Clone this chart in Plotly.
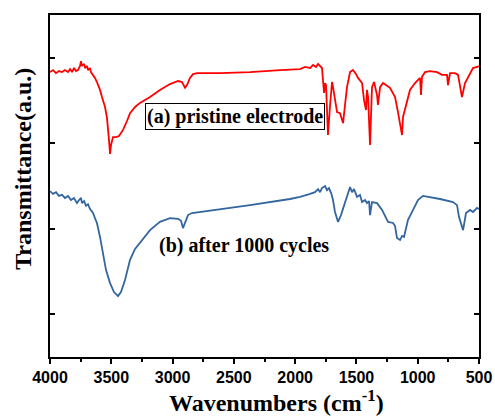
import plotly.graph_objects as go

# FTIR spectra: wavenumber (cm^-1) and transmittance (arbitrary units, offset traces)
wn_pristine = [4000, 3975, 3951, 3927, 3902, 3878, 3853, 3837, 3820, 3804, 3788, 3772,
               3755, 3747, 3739, 3722, 3714, 3698, 3690, 3674, 3666, 3649, 3633, 3617,
               3592, 3576, 3551, 3535, 3527, 3519, 3510, 3502, 3486, 3462, 3437, 3404,
               3372, 3347, 3306, 3266, 3184, 3103, 3021, 2955, 2923, 2898, 2882, 2858,
               2833, 2800, 2613, 2368, 2123, 1960, 1919, 1878, 1854, 1830, 1813, 1797,
               1781, 1773, 1764, 1756, 1748, 1740, 1732, 1715, 1699, 1691, 1675, 1658,
               1634, 1609, 1593, 1577, 1552, 1528, 1503, 1487, 1454, 1438, 1422, 1414,
               1405, 1389, 1373, 1356, 1332, 1324, 1307, 1283, 1226, 1185, 1161, 1128,
               1120, 1087, 1063, 1022, 981, 973, 965, 940, 900, 842, 802, 761, 753, 736,
               696, 671, 639, 614, 590, 549, 516, 500]
t_pristine = [83.3, 83.9, 83.0, 83.6, 83.3, 83.9, 83.3, 84.2, 83.3, 84.5, 83.6, 83.9,
              85.1, 86.5, 85.1, 85.7, 84.5, 85.1, 83.9, 84.5, 83.3, 82.5, 81.6, 80.4,
              78.1, 76.0, 73.1, 69.9, 67.3, 63.5, 59.4, 62.0, 64.3, 64.3, 64.6, 66.4,
              69.0, 71.3, 73.1, 74.3, 76.0, 78.1, 79.8, 80.7, 80.4, 78.7, 79.5, 81.6,
              82.7, 83.0, 83.0, 83.3, 83.9, 84.2, 84.8, 84.5, 85.4, 84.8, 85.7, 85.1,
              84.5, 81.0, 77.2, 80.1, 79.5, 72.2, 64.9, 73.7, 80.4, 78.9, 75.1, 71.6,
              71.3, 68.4, 73.7, 78.9, 83.3, 83.9, 82.7, 81.6, 80.1, 75.1, 72.2, 78.1,
              76.0, 62.0, 78.9, 80.4, 76.6, 73.7, 78.9, 80.1, 78.7, 76.0, 71.6, 64.9,
              70.2, 75.1, 78.1, 80.1, 81.6, 76.6, 81.9, 83.3, 83.6, 83.3, 82.5, 82.5,
              79.5, 83.0, 83.0, 82.5, 76.0, 80.1, 81.9, 84.5, 84.8, 85.1]

wn_cycled = [4000, 3975, 3951, 3927, 3902, 3878, 3853, 3829, 3804, 3780, 3763, 3747,
             3739, 3722, 3706, 3690, 3674, 3649, 3633, 3617, 3592, 3568, 3543, 3510,
             3478, 3445, 3421, 3388, 3347, 3306, 3266, 3184, 3103, 3021, 2955, 2931,
             2915, 2898, 2874, 2841, 2776, 2368, 2042, 1960, 1878, 1838, 1813, 1797,
             1781, 1756, 1740, 1724, 1707, 1691, 1675, 1650, 1626, 1593, 1569, 1552,
             1536, 1520, 1495, 1471, 1454, 1430, 1414, 1397, 1389, 1373, 1332, 1291,
             1242, 1201, 1185, 1169, 1144, 1128, 1112, 1079, 1038, 998, 957, 900, 818,
             712, 679, 663, 630, 606, 573, 549, 516, 500]
t_cycled = [48.5, 47.7, 48.2, 47.1, 47.4, 46.5, 47.1, 45.9, 46.5, 45.0, 45.9, 46.5,
            45.0, 45.6, 44.2, 44.7, 43.3, 42.1, 40.6, 39.2, 35.1, 30.4, 25.4, 21.6,
            19.0, 17.8, 19.0, 22.5, 28.4, 31.6, 33.3, 37.1, 39.5, 40.6, 40.4, 39.8,
            37.7, 39.5, 41.5, 42.1, 42.4, 44.4, 46.2, 46.8, 47.7, 48.2, 49.1, 48.2,
            49.4, 50.0, 48.8, 49.4, 48.0, 45.9, 42.4, 39.5, 41.5, 45.0, 48.2, 49.7,
            48.2, 49.1, 46.8, 47.4, 45.3, 45.9, 45.0, 45.6, 41.5, 45.3, 45.0, 43.0,
            39.5, 39.2, 38.3, 34.8, 34.2, 35.4, 35.1, 40.1, 43.0, 45.9, 47.1, 46.8,
            46.2, 45.3, 44.4, 40.9, 37.1, 42.1, 43.0, 42.4, 43.6, 43.3]

x_ticks = [4000, 3500, 3000, 2500, 2000, 1500, 1000, 500]
y_ticks = [12.5, 37.5, 62.5, 87.5]

serif = "Liberation Serif"
sans = "Liberation Sans"
bold_serif = lambda size: dict(family=serif, size=size, color="black", weight="bold")

fig = go.Figure()
fig.add_trace(go.Scatter(x=wn_pristine, y=t_pristine, mode="lines",
                         line=dict(color="#ff0000", width=1.8), showlegend=False))
fig.add_trace(go.Scatter(x=wn_cycled, y=t_cycled, mode="lines",
                         line=dict(color="#33669e", width=1.8), showlegend=False))

# trace labels
fig.add_annotation(x=0.431, y=0.702, xref="paper", yref="paper",
                   xanchor="center", yanchor="middle",
                   text="(a) pristine electrode", showarrow=False,
                   font=bold_serif(20),
                   bordercolor="black", borderwidth=1, borderpad=1, bgcolor="white")
fig.add_annotation(x=0.453, y=0.325, xref="paper", yref="paper",
                   xanchor="center", yanchor="middle",
                   text="(b) after 1000 cycles", showarrow=False,
                   font=bold_serif(20))

# axis titles
fig.add_annotation(x=0.527, y=-0.1287, xref="paper", yref="paper",
                   xanchor="center", yanchor="middle",
                   text="Wavenumbers (cm<sup>-1</sup>)", showarrow=False,
                   font=bold_serif(24))
fig.add_annotation(x=-0.063, y=0.55, xref="paper", yref="paper",
                   xanchor="center", yanchor="middle", textangle=-90,
                   text="Transmittance(a.u.)", showarrow=False,
                   font=bold_serif(24))

fig.update_layout(
    width=495, height=416,
    margin=dict(l=50, r=16, t=15, b=59),
    plot_bgcolor="white", paper_bgcolor="white",
    xaxis=dict(
        range=[4000, 500], tickvals=x_ticks, ticktext=[str(v) for v in x_ticks],
        automargin=False,
        ticks="outside", ticklen=5, tickwidth=1.5, tickcolor="black",
        minor=dict(dtick=250, tick0=0, ticks="outside", ticklen=3, tickwidth=1.5,
                   tickcolor="black", showgrid=False),
        showline=True, linecolor="black", linewidth=1.5, mirror=True,
        showgrid=False, zeroline=False,
        tickfont=dict(family=sans, size=16, color="black", weight="bold"),
    ),
    yaxis=dict(
        range=[0, 100], tickvals=y_ticks, showticklabels=False,
        automargin=False,
        ticks="inside", ticklen=5, tickwidth=1.5, tickcolor="black",
        showline=True, linecolor="black", linewidth=1.5, mirror="ticks",
        showgrid=False, zeroline=False,
    ),
)

fig.write_html("out.html")
